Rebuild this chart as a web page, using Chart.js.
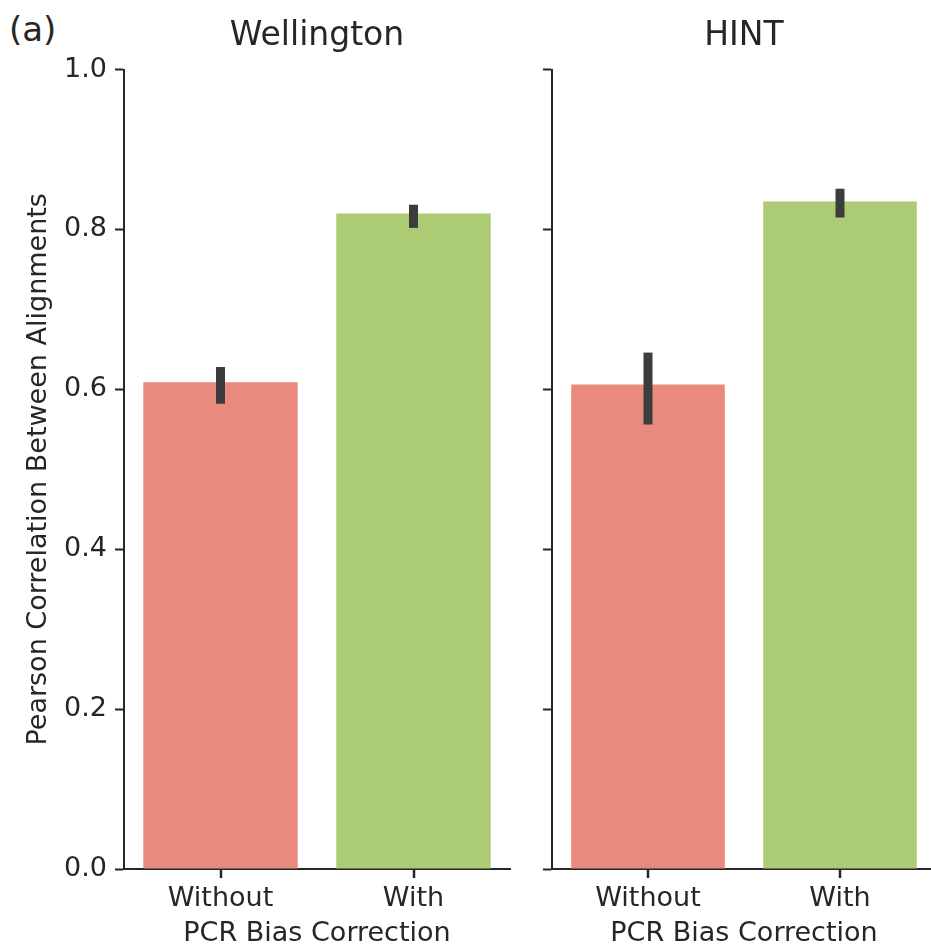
<!DOCTYPE html>
<html>
<head>
<meta charset="utf-8">
<script src="https://cdn.jsdelivr.net/npm/chart.js@4/dist/chart.umd.min.js"></script>
<style>
  html, body { margin: 0; padding: 0; background: #fff; width: 931px; height: 950px; overflow: hidden; }
  .panel { position: absolute; top: 0; }
  #tag { position: absolute; left: 9px; top: 9px; font: 34px "DejaVu Sans"; color: #262626; }
</style>
</head>
<body>
<div id="tag">(a)</div>
<div class="panel" style="left:0px"><canvas id="wellington" width="514" height="950"></canvas></div>
<div class="panel" style="left:460px"><canvas id="hint" width="480" height="950"></canvas></div>
<script>
const categories = ['Without', 'With'];
const wellingtonMeans = [0.609, 0.820];
const wellingtonLow = [0.582, 0.802];
const wellingtonHigh = [0.628, 0.831];
const hintMeans = [0.606, 0.835];
const hintLow = [0.556, 0.815];
const hintHigh = [0.646, 0.851];
const yTicks = [0.0, 0.2, 0.4, 0.6, 0.8, 1.0];

const barColors = ['#e88a7d', '#abcb74'];
const ink = '#262626';
const font = 'DejaVu Sans';

// error bars + centred x tick marks, placed with the chart's own scales
const errorBars = {
    id: 'errorBars',
    afterDatasetsDraw(chart, args, opts) {
        const ctx = chart.ctx;
        const meta = chart.getDatasetMeta(0);
        const x = chart.scales.x;
        const y = chart.scales.y;
        ctx.save();
        ctx.strokeStyle = '#3c3c3c';
        ctx.lineWidth = 9;
        ctx.lineCap = 'butt';
        meta.data.forEach((bar, i) => {
            ctx.beginPath();
            ctx.moveTo(bar.x, y.getPixelForValue(opts.low[i]));
            ctx.lineTo(bar.x, y.getPixelForValue(opts.high[i]));
            ctx.stroke();
        });
        ctx.strokeStyle = ink;
        ctx.lineWidth = 2.5;
        x.ticks.forEach((t, i) => {
            const px = Math.round(x.getPixelForTick(i));
            ctx.beginPath();
            ctx.moveTo(px, chart.chartArea.bottom);
            ctx.lineTo(px, chart.chartArea.bottom + 9);
            ctx.stroke();
        });
        ctx.restore();
    }
};

function makePanel(id, title, means, low, high, showY, yWidth) {
    return new Chart(document.getElementById(id), {
        type: 'bar',
        data: {
            labels: categories,
            datasets: [{
                data: means,
                backgroundColor: barColors,
                borderWidth: 0,
                categoryPercentage: 0.8,
                barPercentage: 1.0
            }]
        },
        plugins: [errorBars],
        options: {
            responsive: false,
            animation: false,
            devicePixelRatio: 1,
            layout: { padding: { left: 0, right: 4, top: 0, bottom: 0 } },
            plugins: {
                legend: { display: false },
                tooltip: { enabled: false },
                title: {
                    display: true,
                    text: title,
                    fullSize: false,
                    color: ink,
                    font: { family: font, size: 33, weight: 'normal' },
                    padding: { top: 17, bottom: 13 }
                },
                errorBars: { low: low, high: high }
            },
            scales: {
                x: {
                    offset: true,
                    grid: { display: false, tickLength: 9 },
                    border: { display: true, color: ink, width: 2 },
                    ticks: { color: ink, font: { family: font, size: 27 }, padding: 5 },
                    title: {
                        display: true,
                        text: 'PCR Bias Correction',
                        color: ink,
                        font: { family: font, size: 27 },
                        padding: { top: 0, bottom: 0 }
                    },
                    afterFit(s) { s.height = 81; }
                },
                y: {
                    min: 0,
                    max: 1,
                    afterBuildTicks(s) { s.ticks = yTicks.map(v => ({ value: v })); },
                    grid: { display: true, drawOnChartArea: false, drawTicks: true, tickLength: 9, tickColor: ink, tickWidth: 2 },
                    border: { display: true, color: ink, width: 2 },
                    ticks: {
                        color: showY ? ink : 'rgba(0,0,0,0)',
                        font: { family: font, size: 27 },
                        padding: 8,
                        callback: v => v.toFixed(1)
                    },
                    title: {
                        display: showY,
                        text: 'Pearson Correlation Between Alignments',
                        color: ink,
                        font: { family: font, size: 27 },
                        padding: { top: 23, bottom: 0 }
                    },
                    afterFit(s) { s.width = yWidth; }
                }
            }
        }
    });
}

makePanel('wellington', 'Wellington', wellingtonMeans, wellingtonLow, wellingtonHigh, true, 124);
makePanel('hint', 'HINT', hintMeans, hintLow, hintHigh, false, 92);
</script>
</body>
</html>
